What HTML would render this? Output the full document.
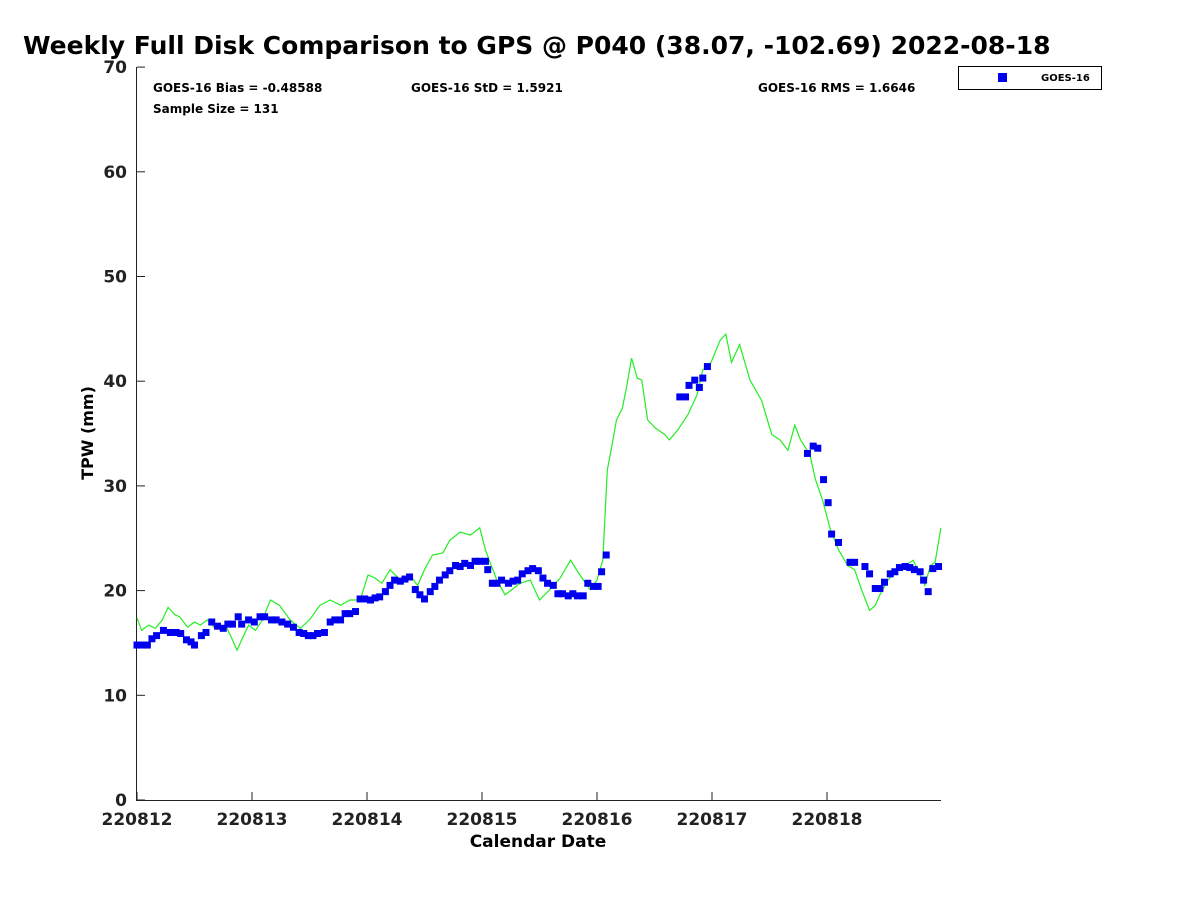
<!DOCTYPE html>
<html><head><meta charset="utf-8"><style>
body{margin:0;background:#fff;width:1200px;height:900px;overflow:hidden}
svg{font-family:"DejaVu Sans","Liberation Sans",sans-serif}
</style></head><body>
<svg id="chart" width="1200" height="900">
<text x="23" y="54" font-size="25" font-weight="bold">Weekly Full Disk Comparison to GPS @ P040 (38.07, -102.69) 2022-08-18</text>
<text x="153" y="92" font-size="12" font-weight="bold">GOES-16 Bias = -0.48588</text>
<text x="411" y="92" font-size="12" font-weight="bold">GOES-16 StD = 1.5921</text>
<text x="758" y="92" font-size="12" font-weight="bold">GOES-16 RMS = 1.6646</text>
<text x="153" y="113" font-size="12" font-weight="bold">Sample Size = 131</text>
<g>
<rect x="958.5" y="66.5" width="143" height="23" fill="#fff" stroke="#000" stroke-width="1"/>
<rect x="998" y="73" width="9" height="9" fill="#0000ee"/>
<text x="1041" y="81" font-size="10" font-weight="bold">GOES-16</text>
</g>
<g id="axes"></g>
<g id="marks"></g>
<text x="0" y="0" transform="translate(93,433) rotate(-90)" text-anchor="middle" font-size="16" font-weight="bold">TPW (mm)</text>
<text x="538" y="847" text-anchor="middle" font-size="17" font-weight="bold">Calendar Date</text>
</svg>
<script>
const xTickLabels=["220812","220813","220814","220815","220816","220817","220818"];
const yTicks=[0,10,20,30,40,50,60,70];
const gpsDay=[0.00,0.04,0.10,0.16,0.22,0.27,0.33,0.37,0.44,0.50,0.55,0.61,0.68,0.77,0.83,0.87,0.91,0.97,1.03,1.09,1.16,1.24,1.33,1.42,1.50,1.59,1.68,1.77,1.85,1.94,2.01,2.07,2.13,2.20,2.29,2.37,2.44,2.50,2.57,2.66,2.72,2.81,2.90,2.98,3.03,3.07,3.13,3.20,3.26,3.33,3.42,3.50,3.59,3.68,3.77,3.85,3.94,4.00,4.05,4.09,4.13,4.17,4.22,4.26,4.30,4.35,4.39,4.44,4.51,4.59,4.63,4.70,4.79,4.87,4.92,4.98,5.07,5.12,5.17,5.24,5.33,5.43,5.52,5.59,5.66,5.72,5.77,5.85,5.90,5.96,6.03,6.10,6.18,6.24,6.30,6.37,6.42,6.46,6.53,6.59,6.68,6.75,6.81,6.85,6.90,6.94,6.99];
const gpsTpw=[17.4,16.2,16.7,16.4,17.2,18.4,17.7,17.5,16.5,17.0,16.7,17.2,16.4,16.7,15.3,14.3,15.3,16.7,16.2,17.2,19.1,18.6,17.2,16.4,17.2,18.6,19.1,18.6,19.1,19.1,21.5,21.2,20.7,22.0,21.0,21.5,20.5,22.0,23.4,23.6,24.8,25.6,25.3,26.0,23.9,22.7,21.0,19.6,20.1,20.7,21.0,19.1,20.1,21.2,22.9,21.5,20.1,21.0,22.9,31.5,33.9,36.3,37.4,39.6,42.2,40.3,40.1,36.3,35.5,34.9,34.4,35.3,36.8,38.7,41.1,41.5,43.9,44.5,41.8,43.5,40.1,38.2,34.9,34.4,33.4,35.8,34.4,33.0,30.6,28.7,25.8,23.9,22.4,22.0,20.1,18.1,18.6,19.6,21.0,21.8,22.4,22.9,21.5,20.5,22.4,22.7,26.0];
const goesDay=[0.00,0.04,0.09,0.13,0.17,0.23,0.29,0.34,0.38,0.43,0.47,0.50,0.56,0.60,0.65,0.70,0.75,0.79,0.83,0.88,0.91,0.97,1.02,1.07,1.11,1.17,1.21,1.26,1.31,1.36,1.41,1.45,1.49,1.53,1.57,1.63,1.68,1.72,1.77,1.81,1.85,1.90,1.94,1.98,2.03,2.07,2.11,2.16,2.20,2.24,2.29,2.33,2.37,2.42,2.46,2.50,2.55,2.59,2.63,2.68,2.72,2.77,2.81,2.85,2.90,2.94,2.98,3.03,3.05,3.09,3.13,3.17,3.23,3.27,3.31,3.35,3.40,3.44,3.49,3.53,3.57,3.62,3.66,3.70,3.75,3.79,3.83,3.88,3.92,3.97,4.01,4.04,4.08,4.72,4.77,4.80,4.85,4.89,4.92,4.96,5.83,5.88,5.92,5.97,6.01,6.04,6.10,6.20,6.24,6.33,6.37,6.42,6.46,6.50,6.55,6.59,6.63,6.68,6.72,6.76,6.81,6.84,6.88,6.92,6.97];
const goesTpw=[14.8,14.8,14.8,15.4,15.7,16.2,16.0,16.0,15.9,15.3,15.1,14.8,15.7,16.0,17.0,16.6,16.4,16.8,16.8,17.5,16.8,17.2,17.0,17.5,17.5,17.2,17.2,17.0,16.8,16.5,16.0,15.9,15.7,15.7,15.9,16.0,17.0,17.2,17.2,17.8,17.8,18.0,19.2,19.2,19.1,19.3,19.4,19.9,20.5,21.0,20.9,21.1,21.3,20.1,19.6,19.2,19.9,20.4,21.0,21.5,21.9,22.4,22.3,22.6,22.4,22.8,22.8,22.8,22.0,20.7,20.7,21.0,20.7,20.9,21.0,21.6,21.9,22.1,21.9,21.2,20.7,20.5,19.7,19.7,19.5,19.7,19.5,19.5,20.7,20.4,20.4,21.8,23.4,38.5,38.5,39.6,40.1,39.4,40.3,41.4,33.1,33.8,33.6,30.6,28.4,25.4,24.6,22.7,22.7,22.3,21.6,20.2,20.2,20.8,21.6,21.8,22.2,22.3,22.2,22.0,21.8,21.0,19.9,22.1,22.3];

const X0=137,DAYPX=115,Y0=800,YPX=10.47;
const xs=d=>X0+d*DAYPX;
const ys=v=>Y0-v*YPX;
const NS="http://www.w3.org/2000/svg";
const axes=document.getElementById('axes'),marks=document.getElementById('marks');
function mk(tag,attrs,parent){const e=document.createElementNS(NS,tag);for(const k in attrs)e.setAttribute(k,attrs[k]);parent.appendChild(e);return e;}

let a=mk('line',{x1:136.5,y1:67,x2:136.5,y2:800,stroke:'#222','stroke-width':1},axes);


a=mk('line',{x1:136,y1:800.5,x2:941,y2:800.5,stroke:'#222','stroke-width':1},axes);



yTicks.forEach(v=>{
  const t=mk('line',{x1:137,y1:ys(v),x2:145,y2:ys(v),stroke:'#222'},axes);
  
  
  const l=mk('text',{x:127,y:ys(v)+6,'text-anchor':'end','font-size':17,'font-weight':'bold',fill:'#222'},axes);
  l.textContent=v;
  
  
});
xTickLabels.forEach((s,i)=>{
  const t=mk('line',{x1:xs(i),y1:800,x2:xs(i),y2:792,stroke:'#222'},axes);
  
  
  const l=mk('text',{x:xs(i),y:825,'text-anchor':'middle','font-size':17,'font-weight':'bold',fill:'#222'},axes);
  l.textContent=s;
  
  
});

const pts=gpsDay.map((d,i)=>xs(d).toFixed(1)+','+ys(gpsTpw[i]).toFixed(1)).join(' ');
const line=mk('polyline',{points:pts,fill:'none',stroke:'#22ee22','stroke-width':1.2},marks);



goesDay.forEach((d,i)=>{
  const r=mk('rect',{x:xs(d)-3.5,y:ys(goesTpw[i])-3.5,width:7,height:7,fill:'#0000ee'},marks);
  
  
});
</script>
</body></html>
